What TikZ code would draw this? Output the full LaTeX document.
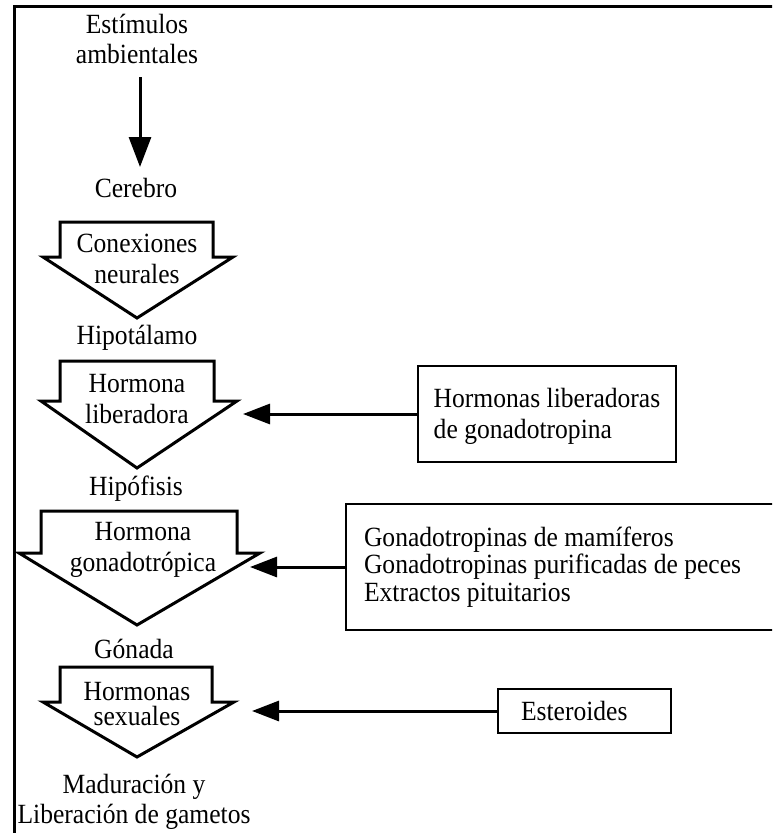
\documentclass[tikz,border=0pt]{standalone}
\usepackage{fontspec}
% slightly condensed Times-like face
\setmainfont{Liberation Serif}[FakeStretch=0.92]
\usetikzlibrary{arrows.meta}

% multi-line labels are placed by the baseline of their last line
\tikzset{
  lbl/.style={inner sep=0pt, anchor=base, align=center,
              font=\fontsize{27.8pt}{#1}\selectfont},
  lbl/.default=30pt,
  blockarrow/.style={draw, line width=3pt, line join=miter},
  srcbox/.style={draw, line width=2pt, inner ysep=0pt, align=flush left,
                 font=\fontsize{27.8pt}{#1}\selectfont},
  srcbox/.default=30pt,
  conn/.style={line width=3pt, -{Triangle[length=27pt,width=20pt]}},
}
% invisible struts that set the text's vertical place inside a box
\newcommand\upstrut[1]{\rule{0pt}{#1}}
\newcommand\downstrut[1]{\rule[-#1]{0pt}{0pt}}

\begin{document}
\begin{tikzpicture}[x=1pt,y=-1pt]
  \useasboundingbox (0,0) rectangle (772,833);
  \clip (0,0) rectangle (772,833);

  % outer frame: left and top edges only
  \draw[line width=3pt, line join=miter] (14.5,840) -- (14.5,6) -- (780,6);

  % main cascade, top to bottom
  \node[lbl] (est) at (137,63) {Estímulos\\ambientales};
  \coordinate (estOut) at (140,77);
  \coordinate (cerIn) at (140,167);
  \draw[line width=3pt, -{Triangle[length=30pt,width=22pt]}] (estOut) -- (cerIn);
  \node[lbl] (cer) at (136,197) {Cerebro};

  \draw[blockarrow] (60,222) -- (213,222) -- (213,257) -- (233,257)
        -- (137,318) -- (43,257) -- (60,257) -- cycle;
  \node[lbl=31pt] (neur) at (137,283) {Conexiones\\neurales};

  \node[lbl] (hipot) at (137,344) {Hipotálamo};

  \draw[blockarrow] (60,361) -- (214,361) -- (214,401) -- (237,401)
        -- (137,468) -- (41,401) -- (60,401) -- cycle;
  \node[lbl=31pt] (hlib) at (137,423) {Hormona\\liberadora};

  \node[lbl] (hipof) at (136,495) {Hipófisis};

  \draw[blockarrow] (41,511) -- (237,511) -- (237,553) -- (260,553)
        -- (137,625) -- (19,553) -- (41,553) -- cycle;
  \node[lbl=31pt] (hgon) at (143,571) {Hormona\\gonadotrópica};

  \node[lbl] (gon) at (134,658) {Gónada};

  \draw[blockarrow] (60,667) -- (212,667) -- (212,702) -- (234,702)
        -- (137,757) -- (43,702) -- (60,702) -- cycle;
  \node[lbl=25pt] (hsex) at (137,725) {Hormonas\\sexuales};

  \node[lbl] (mad) at (134,823) {Maduración y\\Liberación de gametos};

  % external treatments acting on each step
  \node[srcbox=31pt, minimum width=258pt, minimum height=96pt,
        inner xsep=15pt] (glib) at (547,414)
        {\upstrut{23pt}Hormonas liberadoras\\de gonadotropina};
  \node[srcbox=27.5pt, anchor=west, minimum height=126pt, inner xsep=18pt,
        text width=420pt] (gtrop) at (345,567)
        {Gonadotropinas de mamíferos\\Gonadotropinas purificadas de peces\\Extractos pituitarios\downstrut{6pt}};
  \node[srcbox, anchor=west, minimum height=44pt, inner xsep=23pt,
        text width=127pt] (ester) at (497,711) {\upstrut{20pt}Esteroides};

  \coordinate (inLib) at (243,414);
  \coordinate (inGon) at (250,567);
  \coordinate (inSex) at (252,711);
  \draw[conn] (glib.west) -- (inLib);
  \draw[conn] (gtrop.west) -- (inGon);
  \draw[conn] (ester.west) -- (inSex);
\end{tikzpicture}
\end{document}
